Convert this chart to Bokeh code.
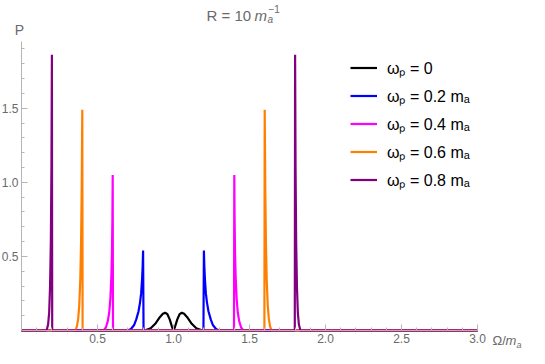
from bokeh.plotting import figure
from bokeh.models import (ColumnDataSource, Range1d, FixedTicker, PrintfTickFormatter,
                          Label, Legend, LegendItem)
from bokeh.embed import file_html
from bokeh.resources import INLINE

# ---------------- data ----------------
x_w00 = [0.0, 0.81, 0.85, 0.88, 0.91, 0.93, 0.945, 0.96, 0.975, 0.99, 1.0,
         1.01, 1.025, 1.04, 1.055, 1.07, 1.09, 1.12, 1.15, 1.19, 3.0]
p_w00 = [0, 0, 0.015, 0.045, 0.09, 0.113, 0.12, 0.11, 0.075, 0.025, 0,
         0.025, 0.075, 0.11, 0.12, 0.113, 0.09, 0.045, 0.015, 0, 0]

x_w02 = [0.0, 0.70, 0.72, 0.74, 0.755, 0.77, 0.78, 0.787, 0.793, 0.797, 0.800, 0.803,
         1.197, 1.200, 1.203, 1.207, 1.213, 1.220, 1.230, 1.245, 1.260, 1.280, 1.300, 3.0]
p_w02 = [0, 0, 0.01, 0.035, 0.075, 0.13, 0.19, 0.25, 0.34, 0.43, 0.54, 0,
         0, 0.54, 0.43, 0.34, 0.25, 0.19, 0.13, 0.075, 0.035, 0.01, 0, 0]

x_w04 = [0.0, 0.54, 0.555, 0.567, 0.577, 0.585, 0.591, 0.595, 0.598, 0.600, 0.602,
         1.398, 1.400, 1.402, 1.405, 1.409, 1.415, 1.423, 1.433, 1.445, 1.46, 3.0]
p_w04 = [0, 0, 0.02, 0.06, 0.12, 0.22, 0.36, 0.52, 0.75, 1.05, 0,
         0, 1.05, 0.75, 0.52, 0.36, 0.22, 0.12, 0.06, 0.02, 0, 0]

x_w06 = [0.0, 0.355, 0.365, 0.373, 0.380, 0.387, 0.392, 0.396, 0.400, 0.402,
         1.598, 1.600, 1.604, 1.608, 1.613, 1.620, 1.627, 1.635, 1.645, 3.0]
p_w06 = [0, 0, 0.03, 0.08, 0.17, 0.35, 0.6, 0.95, 1.49, 0,
         0, 1.49, 0.95, 0.6, 0.35, 0.17, 0.08, 0.03, 0, 0]

x_w08 = [0.0, 0.165, 0.175, 0.182, 0.188, 0.193, 0.197, 0.200, 0.202,
         1.798, 1.800, 1.803, 1.807, 1.812, 1.818, 1.825, 1.835, 3.0]
p_w08 = [0, 0, 0.04, 0.12, 0.3, 0.6, 1.1, 1.86, 0,
         0, 1.86, 1.1, 0.6, 0.3, 0.12, 0.04, 0, 0]

series_x = [x_w00, x_w02, x_w04, x_w06, x_w08]
series_p = [p_w00, p_w02, p_w04, p_w06, p_w08]
series_labels = ["ωₚ = 0", "ωₚ = 0.2 mₐ", "ωₚ = 0.4 mₐ", "ωₚ = 0.6 mₐ", "ωₚ = 0.8 mₐ"]
series_colors = ["#000000", "#0000ff", "#ff00ff", "#ff8000", "#800080"]

x_major_ticks = [0.5, 1.0, 1.5, 2.0, 2.5, 3.0]
x_minor_ticks = [round(0.1 * i, 1) for i in range(1, 31)]
y_major_ticks = [0.5, 1.0, 1.5]
y_minor_ticks = [round(0.1 * i, 1) for i in range(1, 20)]

# ---------------- figure ----------------
FONT = "Liberation Sans"
GRAY_TXT = "#6a6a6a"
GRAY_AX = "#b5b5b5"

W, H = 529, 348
X0, X3 = 21, 477      # canvas px of x=0 and x=3
Y0, YT = 330, 41      # canvas px (from top) of y=0 and y=1.95
sx = (X3 - X0) / 3.0
sy = (Y0 - YT) / 1.95
x_range = Range1d(-X0 / sx, 3.0 + (W - X3) / sx)
y_range = Range1d(-(H - Y0) / sy, 1.95 + YT / sy)

p = figure(width=W, height=H, output_backend="svg", toolbar_location=None,
           x_range=x_range, y_range=y_range,
           min_border_left=0, min_border_right=0, min_border_top=0, min_border_bottom=0)
p.outline_line_color = None
p.grid.visible = False
p.background_fill_color = "white"
p.border_fill_color = "white"

for ax, major, minor, bnds in ((p.xaxis[0], x_major_ticks, x_minor_ticks, (0, 3.0)),
                               (p.yaxis[0], y_major_ticks, y_minor_ticks, (0, 1.95))):
    ax.fixed_location = 0
    ax.bounds = bnds
    ax.ticker = FixedTicker(ticks=major, minor_ticks=minor)
    ax.formatter = PrintfTickFormatter(format="%.1f")
    ax.axis_line_color = GRAY_AX
    ax.axis_line_width = 1
    ax.major_tick_line_color = GRAY_AX
    ax.minor_tick_line_color = GRAY_AX
    ax.major_tick_in = 6
    ax.major_tick_out = 0
    ax.minor_tick_in = 3
    ax.minor_tick_out = 0
    ax.major_label_text_font = FONT
    ax.major_label_text_font_size = "12px"
    ax.major_label_text_color = GRAY_TXT
    ax.major_label_standoff = 3

renderers = []
for xs, ps, col in zip(series_x, series_p, series_colors):
    src = ColumnDataSource(data=dict(x=xs, y=ps))
    r = p.line("x", "y", source=src, line_color=col, line_width=2.2)
    renderers.append(r)

legend = Legend(items=[LegendItem(label=lab, renderers=[r]) for lab, r in zip(series_labels, renderers)],
                location=(350, 157), orientation="vertical",
                glyph_width=27, glyph_height=23, label_height=23, spacing=5,
                padding=0, margin=0, label_standoff=10,
                border_line_color=None, background_fill_alpha=0,
                label_text_font=FONT, label_text_font_size="16px", label_text_color="black")
p.add_layout(legend)


def add_text(txt, x, y, size, color=GRAY_TXT, style="normal", align="left"):
    # x, y in canvas pixels measured from the left / bottom edge
    p.add_layout(Label(x=x, y=y, x_units="screen", y_units="screen", text=txt,
                       text_font=FONT, text_font_size=size, text_color=color,
                       text_font_style=style, text_align=align, text_baseline="alphabetic"))

# title  R = 10 m_a^{-1}
add_text("R = 10", 206, 333, "15px")
add_text("m", 254, 333, "15px", style="italic")
add_text("a", 267, 329, "10px", style="italic")
add_text("−1", 268, 340, "10px")

# y-axis label P
add_text("P", 19, 319, "14px", align="center")

# x-axis label Ω/m_a
add_text("Ω/", 492, 8, "13px")
add_text("m", 505, 8, "13px", style="italic")
add_text("a", 516, 4, "9px", style="italic")

open("out.html", "w").write(file_html(p, INLINE))
